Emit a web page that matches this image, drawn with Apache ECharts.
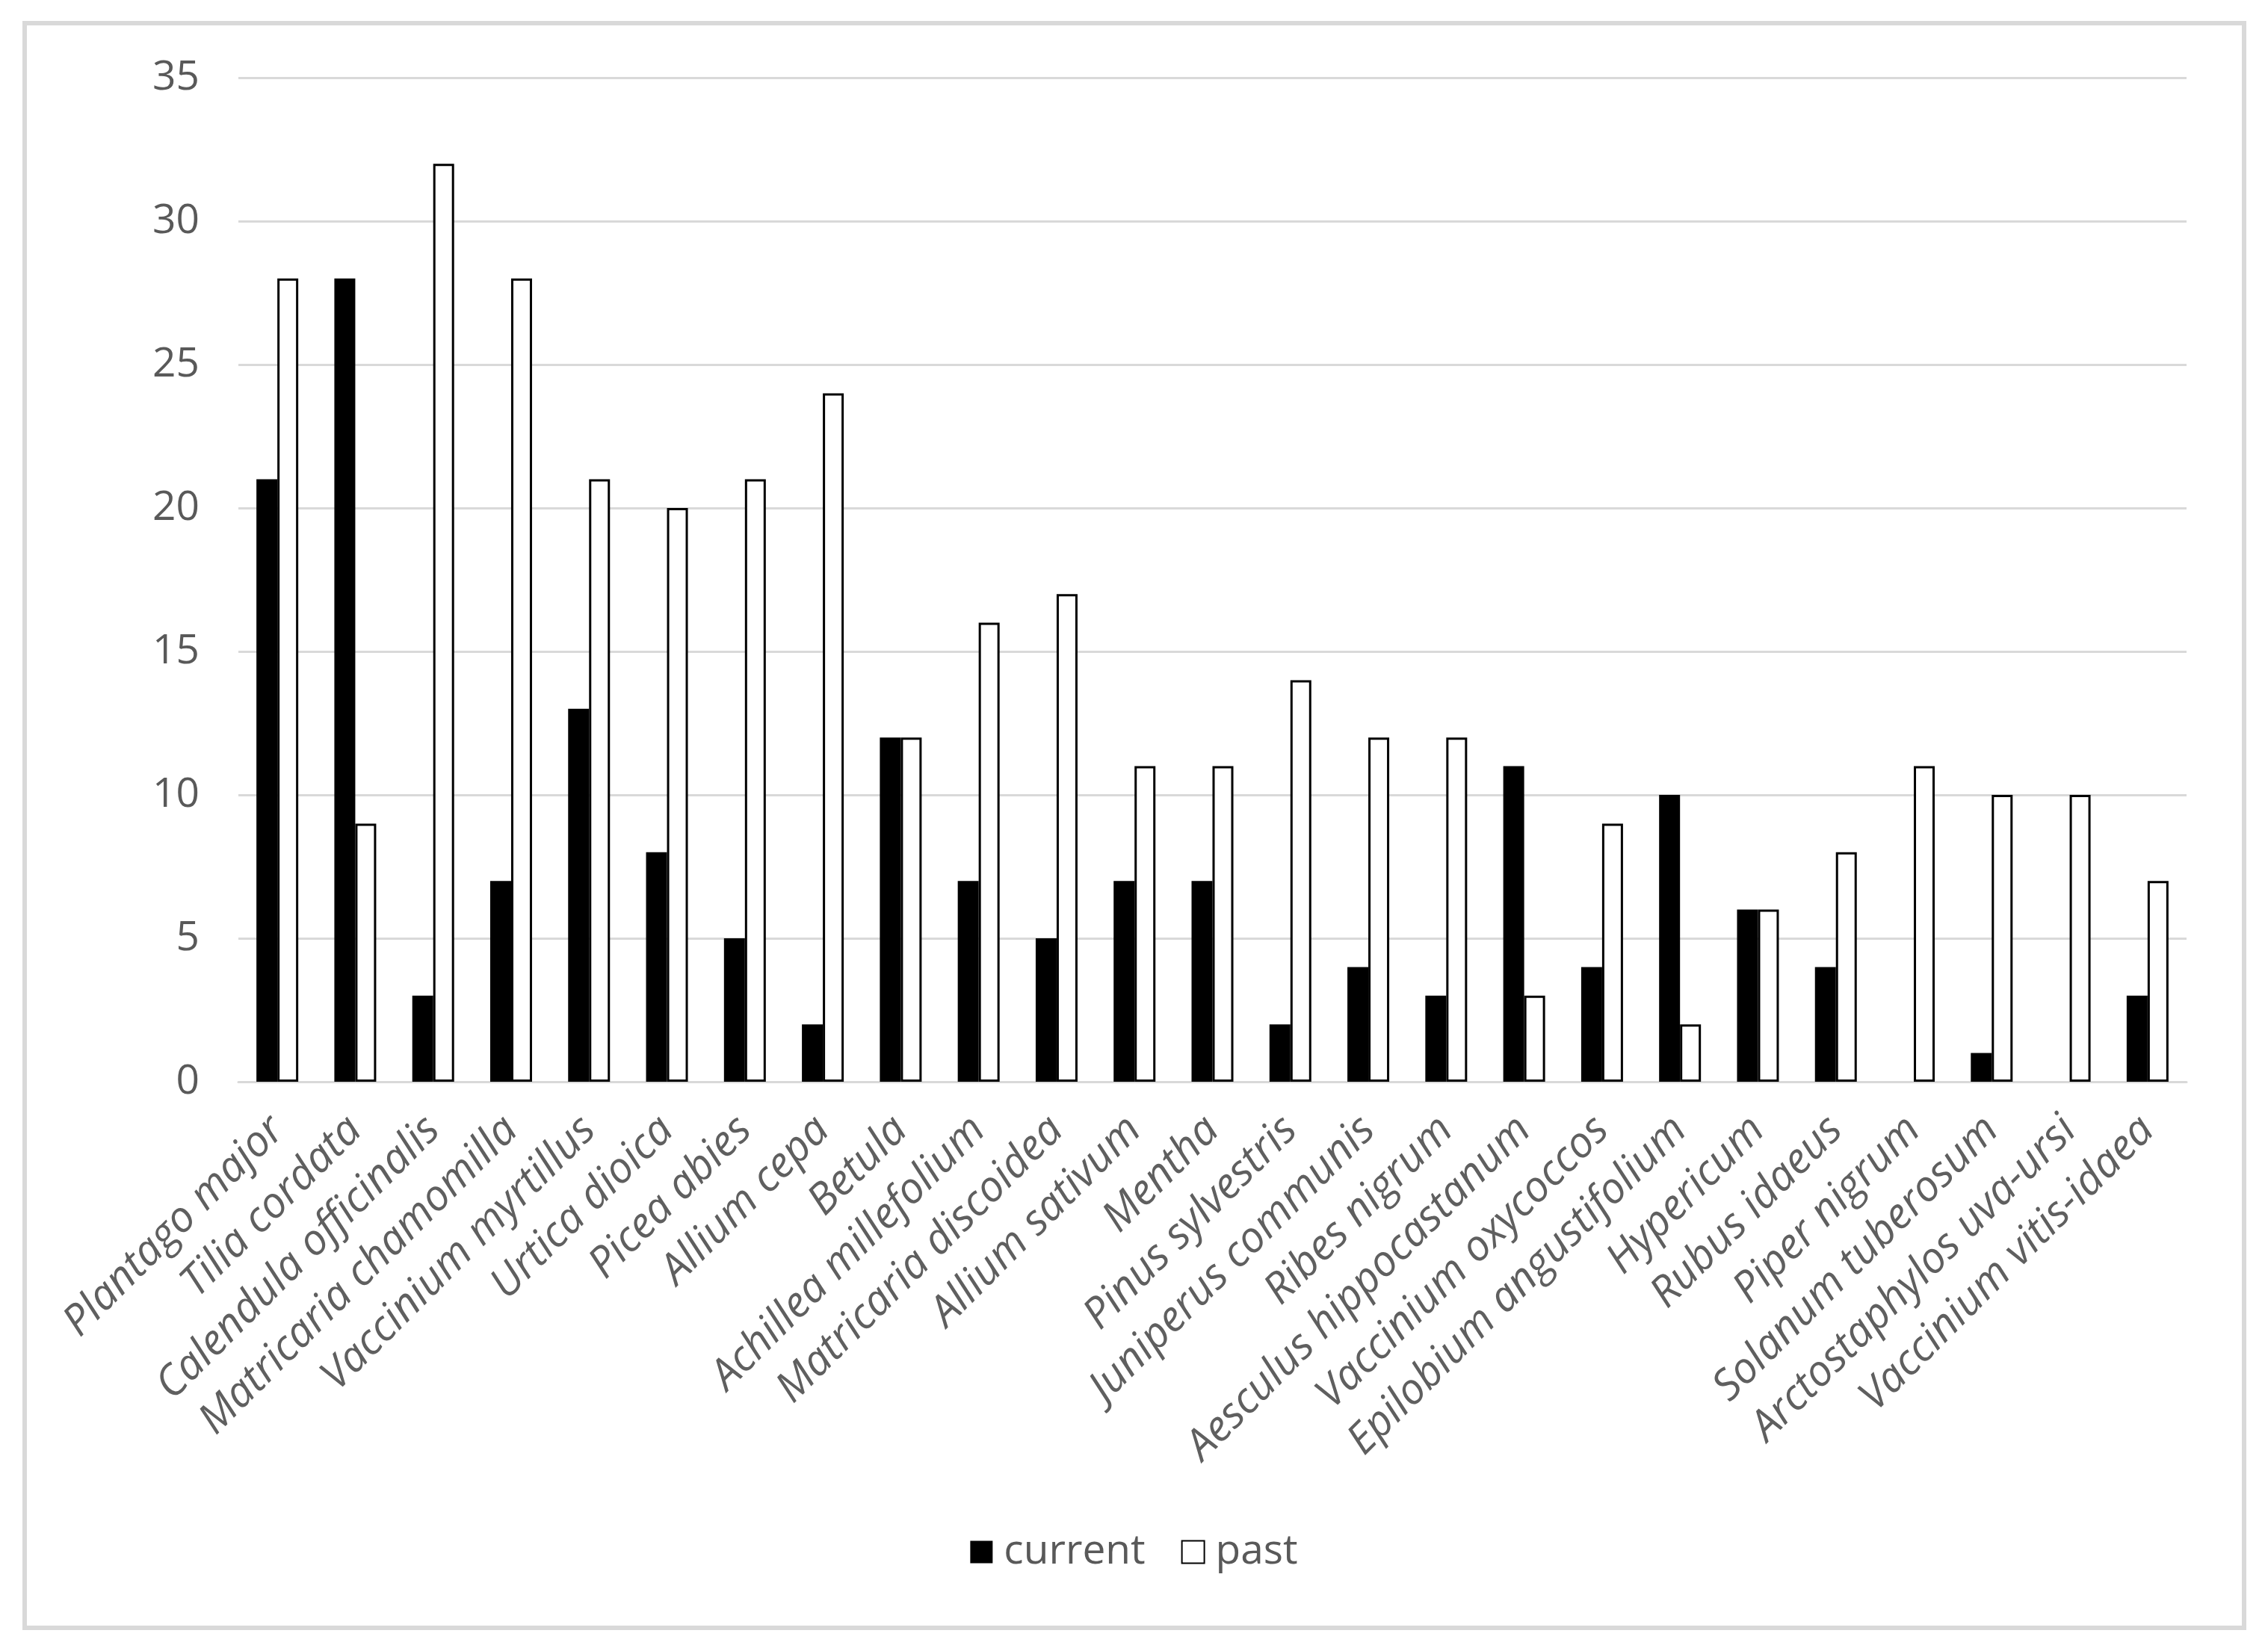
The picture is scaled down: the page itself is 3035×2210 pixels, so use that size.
<!DOCTYPE html>
<html>
<head>
<meta charset="utf-8">
<script src="https://cdn.jsdelivr.net/npm/echarts@6/dist/echarts.min.js"></script>
<style>
html,body{margin:0;padding:0;background:#fff;}
#chart{width:3035px;height:2210px;}
</style>
</head>
<body>
<div id="chart"></div>
<script>
const categories = ["Plantago major","Tilia cordata","Calendula officinalis","Matricaria chamomilla","Vaccinium myrtillus","Urtica dioica","Picea abies","Allium cepa","Betula","Achillea millefolium","Matricaria discoidea","Allium sativum","Mentha","Pinus sylvestris","Juniperus communis","Ribes nigrum","Aesculus hippocastanum","Vaccinium oxycoccos","Epilobium angustifolium","Hypericum","Rubus idaeus","Piper nigrum","Solanum tuberosum","Arctostaphylos uva-ursi","Vaccinium vitis-idaea"];
const currentValues = [21,28,3,7,13,8,5,2,12,7,5,7,7,2,4,3,11,4,10,6,4,0,1,0,3];
const pastValues = [28,9,32,28,21,20,21,24,12,16,17,11,11,14,12,12,3,9,2,6,8,11,10,10,7];
const yTicks = [0,5,10,15,20,25,30,35];

const FONT = '"Open Sans", "Noto Sans", sans-serif';
const chart = echarts.init(document.getElementById('chart'), null, {renderer:'canvas'});
chart.setOption({
  backgroundColor:'#ffffff',
  animation:false,
  graphic:[{
    type:'rect', left:30, top:28, z:-1,
    shape:{x:0,y:0,width:2970,height:2148},
    style:{fill:'none', stroke:'#d9d9d9', lineWidth:6}
  }],
  grid:{left:319, right:109, top:104, bottom:762},
  legend:{
    bottom:100, left:'center',
    itemWidth:30, itemHeight:30, itemGap:48,
    icon:'rect',
    textStyle:{fontFamily:FONT, fontSize:55, color:'#595959', padding:[0,0,0,10]},
    data:['current','past']
  },
  xAxis:{
    type:'category', data:categories,
    axisLine:{show:true, lineStyle:{color:'#d9d9d9', width:3}},
    axisTick:{show:false},
    axisLabel:{rotate:45, interval:0, margin:56, fontFamily:FONT, fontStyle:'italic', fontSize:57, color:'#5f5f5f'}
  },
  yAxis:{
    type:'value', min:yTicks[0], max:yTicks[yTicks.length-1], interval:5,
    axisLine:{show:false}, axisTick:{show:false},
    splitLine:{lineStyle:{color:'#d9d9d9', width:3}},
    axisLabel:{margin:52, fontFamily:FONT, fontSize:55, color:'#595959'}
  },
  series:[
    {name:'current', type:'bar', data:currentValues, barWidth:28, barGap:'0%',
     itemStyle:{color:'#000000'}},
    {name:'past', type:'bar', data:pastValues, barWidth:28,
     itemStyle:{color:'#ffffff', borderColor:'#000000', borderWidth:3}}
  ]
});
</script>
</body>
</html>
